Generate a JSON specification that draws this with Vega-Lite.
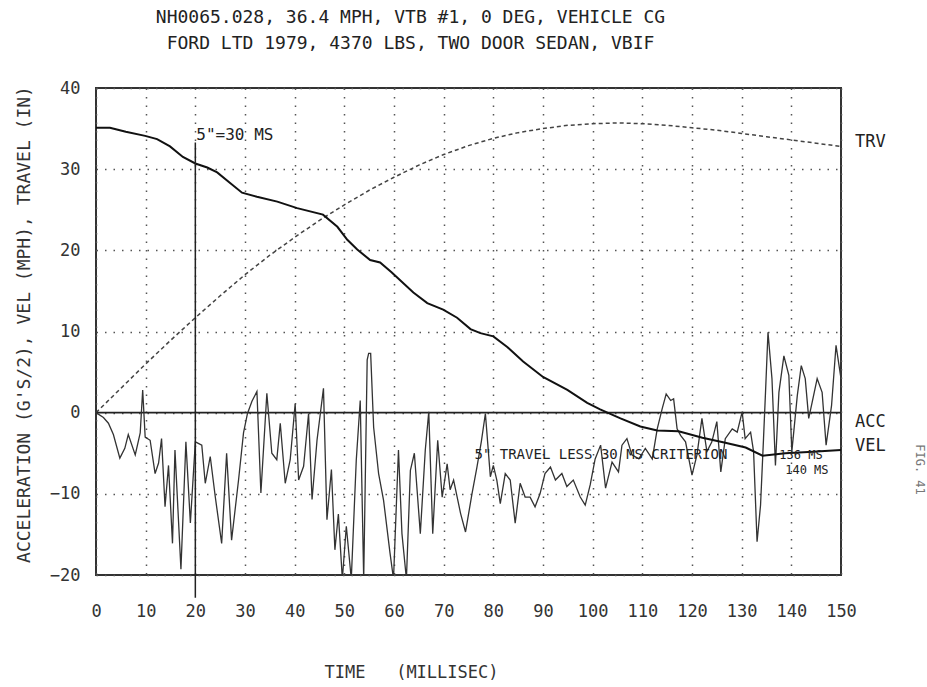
{
  "$schema": "https://vega.github.io/schema/vega-lite/v6.json",
  "width": 745,
  "height": 487,
  "autosize": {"type": "none"},
  "padding": {"left": 96, "top": 88, "right": 86, "bottom": 112},
  "background": "white",
  "title": {
    "text": ["NH0065.028, 36.4 MPH, VTB #1, 0 DEG, VEHICLE CG", "FORD LTD 1979, 4370 LBS, TWO DOOR SEDAN, VBIF"],
    "anchor": "middle",
    "dx": -58,
    "offset": 26,
    "font": "DejaVu Sans Mono",
    "fontSize": 18,
    "fontWeight": "normal",
    "lineHeight": 26,
    "color": "#222"
  },
  "config": {
    "view": {"stroke": "#333", "strokeWidth": 2},
    "axis": {
      "domain": false,
      "ticks": false,
      "grid": true,
      "gridColor": "#555",
      "gridDash": [1.5, 7],
      "gridWidth": 1.5,
      "labelFont": "DejaVu Sans Mono",
      "labelFontSize": 17,
      "labelColor": "#333",
      "labelFlush": false,
      "titleFont": "DejaVu Sans Mono",
      "titleFontSize": 17,
      "titleFontWeight": "normal",
      "titleColor": "#333"
    }
  },
  "datasets": {
    "acc": [
      {"t": 0, "v": 0}, {"t": 1.5, "v": -0.6}, {"t": 2.5, "v": -1.3}, {"t": 3.5, "v": -2.7}, {"t": 4.8, "v": -5.6},
      {"t": 5.8, "v": -4.4}, {"t": 6.5, "v": -2.7}, {"t": 7.9, "v": -5.2}, {"t": 8.9, "v": -2.5}, {"t": 9.4, "v": 2.8},
      {"t": 9.9, "v": -3.0}, {"t": 10.9, "v": -3.4}, {"t": 11.9, "v": -7.5}, {"t": 12.6, "v": -6.2}, {"t": 13.2, "v": -3.2},
      {"t": 13.9, "v": -11.6}, {"t": 14.6, "v": -6.5}, {"t": 15.4, "v": -16.1}, {"t": 15.9, "v": -4.6}, {"t": 17.1, "v": -19.3},
      {"t": 18.1, "v": -3.6}, {"t": 19.0, "v": -13.6}, {"t": 20.0, "v": -3.6}, {"t": 21.3, "v": -4.0}, {"t": 22.0, "v": -8.7},
      {"t": 23.0, "v": -5.4}, {"t": 24.0, "v": -10.3}, {"t": 25.3, "v": -16.1}, {"t": 26.3, "v": -5.0}, {"t": 27.3, "v": -15.7},
      {"t": 28.7, "v": -8.3}, {"t": 29.7, "v": -2.5}, {"t": 30.5, "v": -0.1}, {"t": 31.4, "v": 1.4}, {"t": 32.4, "v": 2.6},
      {"t": 33.2, "v": -9.9}, {"t": 34.4, "v": 2.4}, {"t": 35.4, "v": -5.0}, {"t": 36.4, "v": -5.8}, {"t": 37.1, "v": -1.3},
      {"t": 38.1, "v": -8.7}, {"t": 39.1, "v": -5.8}, {"t": 40.1, "v": 1.1}, {"t": 40.8, "v": -8.3}, {"t": 41.8, "v": -6.6},
      {"t": 42.8, "v": -0.1}, {"t": 43.5, "v": -10.7}, {"t": 44.5, "v": -3.4}, {"t": 45.8, "v": 3.0}, {"t": 46.5, "v": -13.2},
      {"t": 47.4, "v": -7.0}, {"t": 48.1, "v": -16.9}, {"t": 48.8, "v": -12.5}, {"t": 49.6, "v": -20.5}, {"t": 50.4, "v": -14.0},
      {"t": 51.4, "v": -20.5}, {"t": 52.4, "v": -5.9}, {"t": 53.2, "v": 1.5}, {"t": 53.9, "v": -20.5}, {"t": 54.6, "v": 6.5},
      {"t": 54.9, "v": 7.3}, {"t": 55.3, "v": 7.3}, {"t": 55.9, "v": -1.8}, {"t": 56.9, "v": -7.5}, {"t": 57.9, "v": -10.8},
      {"t": 59.2, "v": -17.3}, {"t": 59.9, "v": -20.5}, {"t": 60.9, "v": -4.6}, {"t": 61.6, "v": -14.9}, {"t": 62.5, "v": -20.5},
      {"t": 63.3, "v": -7.1}, {"t": 64.1, "v": -5.0}, {"t": 65.3, "v": -14.9}, {"t": 66.3, "v": -4.6}, {"t": 67.0, "v": 0.1},
      {"t": 67.8, "v": -14.9}, {"t": 68.8, "v": -3.4}, {"t": 69.7, "v": -10.4}, {"t": 70.7, "v": -6.3}, {"t": 71.3, "v": -9.5},
      {"t": 72.0, "v": -8.3}, {"t": 73.4, "v": -12.4}, {"t": 74.4, "v": -14.7}, {"t": 75.7, "v": -10.0}, {"t": 76.7, "v": -6.7},
      {"t": 77.6, "v": -3.5}, {"t": 78.4, "v": -0.1}, {"t": 79.4, "v": -7.9}, {"t": 80.0, "v": -6.5}, {"t": 80.7, "v": -8.3},
      {"t": 81.4, "v": -11.2}, {"t": 82.4, "v": -7.5}, {"t": 83.4, "v": -8.3}, {"t": 84.4, "v": -13.6}, {"t": 85.4, "v": -8.7},
      {"t": 86.4, "v": -10.4}, {"t": 87.4, "v": -10.4}, {"t": 88.4, "v": -11.6}, {"t": 89.4, "v": -10.0}, {"t": 90.4, "v": -7.5},
      {"t": 91.5, "v": -6.7}, {"t": 92.5, "v": -8.3}, {"t": 93.8, "v": -7.5}, {"t": 94.8, "v": -9.1}, {"t": 96.1, "v": -8.3},
      {"t": 97.5, "v": -10.4}, {"t": 98.5, "v": -11.4}, {"t": 99.5, "v": -8.9}, {"t": 100.5, "v": -5.7}, {"t": 101.6, "v": -4.0},
      {"t": 102.6, "v": -9.3}, {"t": 103.9, "v": -6.1}, {"t": 105.2, "v": -7.3}, {"t": 105.9, "v": -4.0}, {"t": 106.9, "v": -3.2},
      {"t": 107.9, "v": -5.2}, {"t": 109.3, "v": -5.7}, {"t": 110.6, "v": -4.4}, {"t": 112.0, "v": -5.7}, {"t": 113.0, "v": -2.0},
      {"t": 114.0, "v": 0.5}, {"t": 114.8, "v": 2.3}, {"t": 115.7, "v": 1.5}, {"t": 116.3, "v": 1.7}, {"t": 117.0, "v": -2.0},
      {"t": 117.7, "v": -2.8}, {"t": 118.7, "v": -3.6}, {"t": 120.0, "v": -7.7}, {"t": 121.0, "v": -5.2}, {"t": 122.0, "v": -0.7},
      {"t": 123.0, "v": -4.8}, {"t": 124.0, "v": -3.6}, {"t": 125.0, "v": -1.1}, {"t": 125.8, "v": -7.3}, {"t": 126.7, "v": -3.2},
      {"t": 128.1, "v": -2.0}, {"t": 129.1, "v": -2.4}, {"t": 130.1, "v": 0.1}, {"t": 130.7, "v": -3.2}, {"t": 131.8, "v": -2.4},
      {"t": 132.4, "v": -4.8}, {"t": 133.1, "v": -15.9}, {"t": 133.8, "v": -11.4}, {"t": 134.4, "v": -3.2}, {"t": 134.8, "v": 2.5},
      {"t": 135.3, "v": 9.9}, {"t": 136.1, "v": 4.2}, {"t": 136.8, "v": -6.5}, {"t": 137.5, "v": 2.5}, {"t": 138.5, "v": 7.0},
      {"t": 139.5, "v": 4.6}, {"t": 140.1, "v": -4.8}, {"t": 141.2, "v": 2.1}, {"t": 142.0, "v": 5.8}, {"t": 142.8, "v": 4.2},
      {"t": 143.5, "v": -0.7}, {"t": 144.2, "v": 1.3}, {"t": 145.2, "v": 4.2}, {"t": 146.2, "v": 2.5}, {"t": 147.0, "v": -4.0},
      {"t": 148.1, "v": 0.9}, {"t": 149.0, "v": 8.3}, {"t": 150.0, "v": 4.2}
    ],
    "vel": [
      {"t": 0, "v": 35.1}, {"t": 2.8, "v": 35.1}, {"t": 6, "v": 34.6}, {"t": 9.9, "v": 34.1}, {"t": 12.3, "v": 33.7},
      {"t": 14.9, "v": 32.8}, {"t": 17.5, "v": 31.5}, {"t": 20, "v": 30.7}, {"t": 22.4, "v": 30.2}, {"t": 24.4, "v": 29.6},
      {"t": 27, "v": 28.3}, {"t": 29.4, "v": 27.1}, {"t": 32.4, "v": 26.6}, {"t": 36.5, "v": 26.0}, {"t": 40.5, "v": 25.2},
      {"t": 45.7, "v": 24.4}, {"t": 48.6, "v": 22.9}, {"t": 50.6, "v": 21.3}, {"t": 52.6, "v": 20.1}, {"t": 55.2, "v": 18.8},
      {"t": 57.2, "v": 18.5}, {"t": 59.5, "v": 17.3}, {"t": 63.9, "v": 14.8}, {"t": 66.7, "v": 13.5}, {"t": 69.9, "v": 12.7},
      {"t": 72.7, "v": 11.7}, {"t": 75.4, "v": 10.3}, {"t": 77.4, "v": 9.8}, {"t": 80, "v": 9.4}, {"t": 82.8, "v": 8.1},
      {"t": 86, "v": 6.3}, {"t": 90, "v": 4.4}, {"t": 94.9, "v": 2.8}, {"t": 98.9, "v": 1.2}, {"t": 101.5, "v": 0.4},
      {"t": 105.6, "v": -0.7}, {"t": 109.6, "v": -1.7}, {"t": 113, "v": -2.2}, {"t": 117.3, "v": -2.3}, {"t": 122.1, "v": -3.1},
      {"t": 126.7, "v": -3.7}, {"t": 130.8, "v": -4.3}, {"t": 134.2, "v": -5.3}, {"t": 138.8, "v": -5.0}, {"t": 144.3, "v": -4.8},
      {"t": 150, "v": -4.6}
    ],
    "trv": [
      {"t": 0, "v": 0}, {"t": 5, "v": 3.0}, {"t": 10, "v": 6.0}, {"t": 15, "v": 8.9}, {"t": 20, "v": 11.7},
      {"t": 25, "v": 14.4}, {"t": 30, "v": 17.0}, {"t": 35, "v": 19.4}, {"t": 40, "v": 21.6}, {"t": 45, "v": 23.7},
      {"t": 50, "v": 25.6}, {"t": 55, "v": 27.4}, {"t": 60, "v": 29.0}, {"t": 65, "v": 30.5}, {"t": 70, "v": 31.8},
      {"t": 75, "v": 32.9}, {"t": 80, "v": 33.8}, {"t": 85, "v": 34.5}, {"t": 90, "v": 35.0}, {"t": 95, "v": 35.4},
      {"t": 100, "v": 35.6}, {"t": 105, "v": 35.7}, {"t": 110, "v": 35.6}, {"t": 115, "v": 35.4}, {"t": 120, "v": 35.1},
      {"t": 125, "v": 34.8}, {"t": 130, "v": 34.4}, {"t": 135, "v": 34.0}, {"t": 140, "v": 33.6}, {"t": 145, "v": 33.2},
      {"t": 150, "v": 32.8}
    ],
    "labels": [
      {"t": 150, "v": 33.3, "label": "TRV"},
      {"t": 150, "v": -1.2, "label": "ACC"},
      {"t": 150, "v": -4.1, "label": "VEL"}
    ],
    "notes": [
      {"t": 20, "v": 34.2, "label": "5\"=30 MS", "size": 16},
      {"t": 76, "v": -5.2, "label": "5\" TRAVEL LESS 30 MS CRITERION", "size": 14}
    ],
    "marks": [
      {"t": 146.3, "v": -5.2, "label": "136 MS"},
      {"t": 147.5, "v": -7.1, "label": "140 MS"}
    ],
    "zero": [{"v": 0}],
    "cut": [{"t": 20, "v": 33.3, "v2": -22.8}],
    "fig": [{"t": 150, "v": -7, "label": "FIG. 41"}]
  },
  "layer": [
    {
      "data": {"name": "trv"},
      "mark": {"type": "line", "stroke": "#444", "strokeWidth": 1.5, "strokeDash": [4, 3]},
      "encoding": {
        "x": {"field": "t", "type": "quantitative", "scale": {"domain": [0, 150], "nice": false},
              "axis": {"values": [0, 10, 20, 30, 40, 50, 60, 70, 80, 90, 100, 110, 120, 130, 140, 150],
                       "title": "TIME\u00a0\u00a0\u00a0(MILLISEC)", "labelPadding": 28, "titleX": 315, "titleY": 97,
                       "titleAlign": "center", "titleBaseline": "middle", "titleAnchor": null}},
        "y": {"field": "v", "type": "quantitative", "scale": {"domain": [-20, 40], "nice": false},
              "axis": {"values": [-20, -10, 0, 10, 20, 30, 40],
                       "title": "ACCELERATION (G'S/2), VEL (MPH), TRAVEL (IN)", "labelPadding": 16,
                       "titleFontSize": 18, "titleX": -72, "titleY": 236, "titleAngle": 270,
                       "titleAlign": "center", "titleBaseline": "middle", "titleAnchor": null}}
      }
    },
    {
      "data": {"name": "zero"},
      "mark": {"type": "rule", "stroke": "#222", "strokeWidth": 1.8},
      "encoding": {"y": {"field": "v", "type": "quantitative"}}
    },
    {
      "data": {"name": "acc"},
      "mark": {"type": "line", "stroke": "#333", "strokeWidth": 1.3, "clip": true},
      "encoding": {
        "x": {"field": "t", "type": "quantitative"},
        "y": {"field": "v", "type": "quantitative"}
      }
    },
    {
      "data": {"name": "vel"},
      "mark": {"type": "line", "stroke": "#111", "strokeWidth": 2},
      "encoding": {
        "x": {"field": "t", "type": "quantitative"},
        "y": {"field": "v", "type": "quantitative"}
      }
    },
    {
      "data": {"name": "cut"},
      "mark": {"type": "rule", "stroke": "#222", "strokeWidth": 1.5, "clip": false},
      "encoding": {
        "x": {"field": "t", "type": "quantitative"},
        "y": {"field": "v", "type": "quantitative"},
        "y2": {"field": "v2"}
      }
    },
    {
      "data": {"name": "labels"},
      "mark": {"type": "text", "align": "left", "baseline": "middle", "dx": 14, "font": "DejaVu Sans Mono", "fontSize": 17, "color": "#222"},
      "encoding": {
        "x": {"field": "t", "type": "quantitative"},
        "y": {"field": "v", "type": "quantitative"},
        "text": {"field": "label"}
      }
    },
    {
      "data": {"name": "notes"},
      "mark": {"type": "text", "align": "left", "baseline": "middle", "dx": 1, "font": "DejaVu Sans Mono", "color": "#222"},
      "encoding": {
        "x": {"field": "t", "type": "quantitative"},
        "y": {"field": "v", "type": "quantitative"},
        "text": {"field": "label"},
        "size": {"field": "size", "type": "quantitative", "scale": null}
      }
    },
    {
      "data": {"name": "marks"},
      "mark": {"type": "text", "align": "right", "baseline": "middle", "font": "DejaVu Sans Mono", "fontSize": 12, "color": "#222"},
      "encoding": {
        "x": {"field": "t", "type": "quantitative"},
        "y": {"field": "v", "type": "quantitative"},
        "text": {"field": "label"}
      }
    },
    {
      "data": {"name": "fig"},
      "mark": {"type": "text", "align": "center", "baseline": "middle", "dy": -79, "angle": 90, "font": "DejaVu Sans Mono", "fontSize": 12, "color": "#777"},
      "encoding": {
        "x": {"field": "t", "type": "quantitative"},
        "y": {"field": "v", "type": "quantitative"},
        "text": {"field": "label"}
      }
    }
  ]
}
